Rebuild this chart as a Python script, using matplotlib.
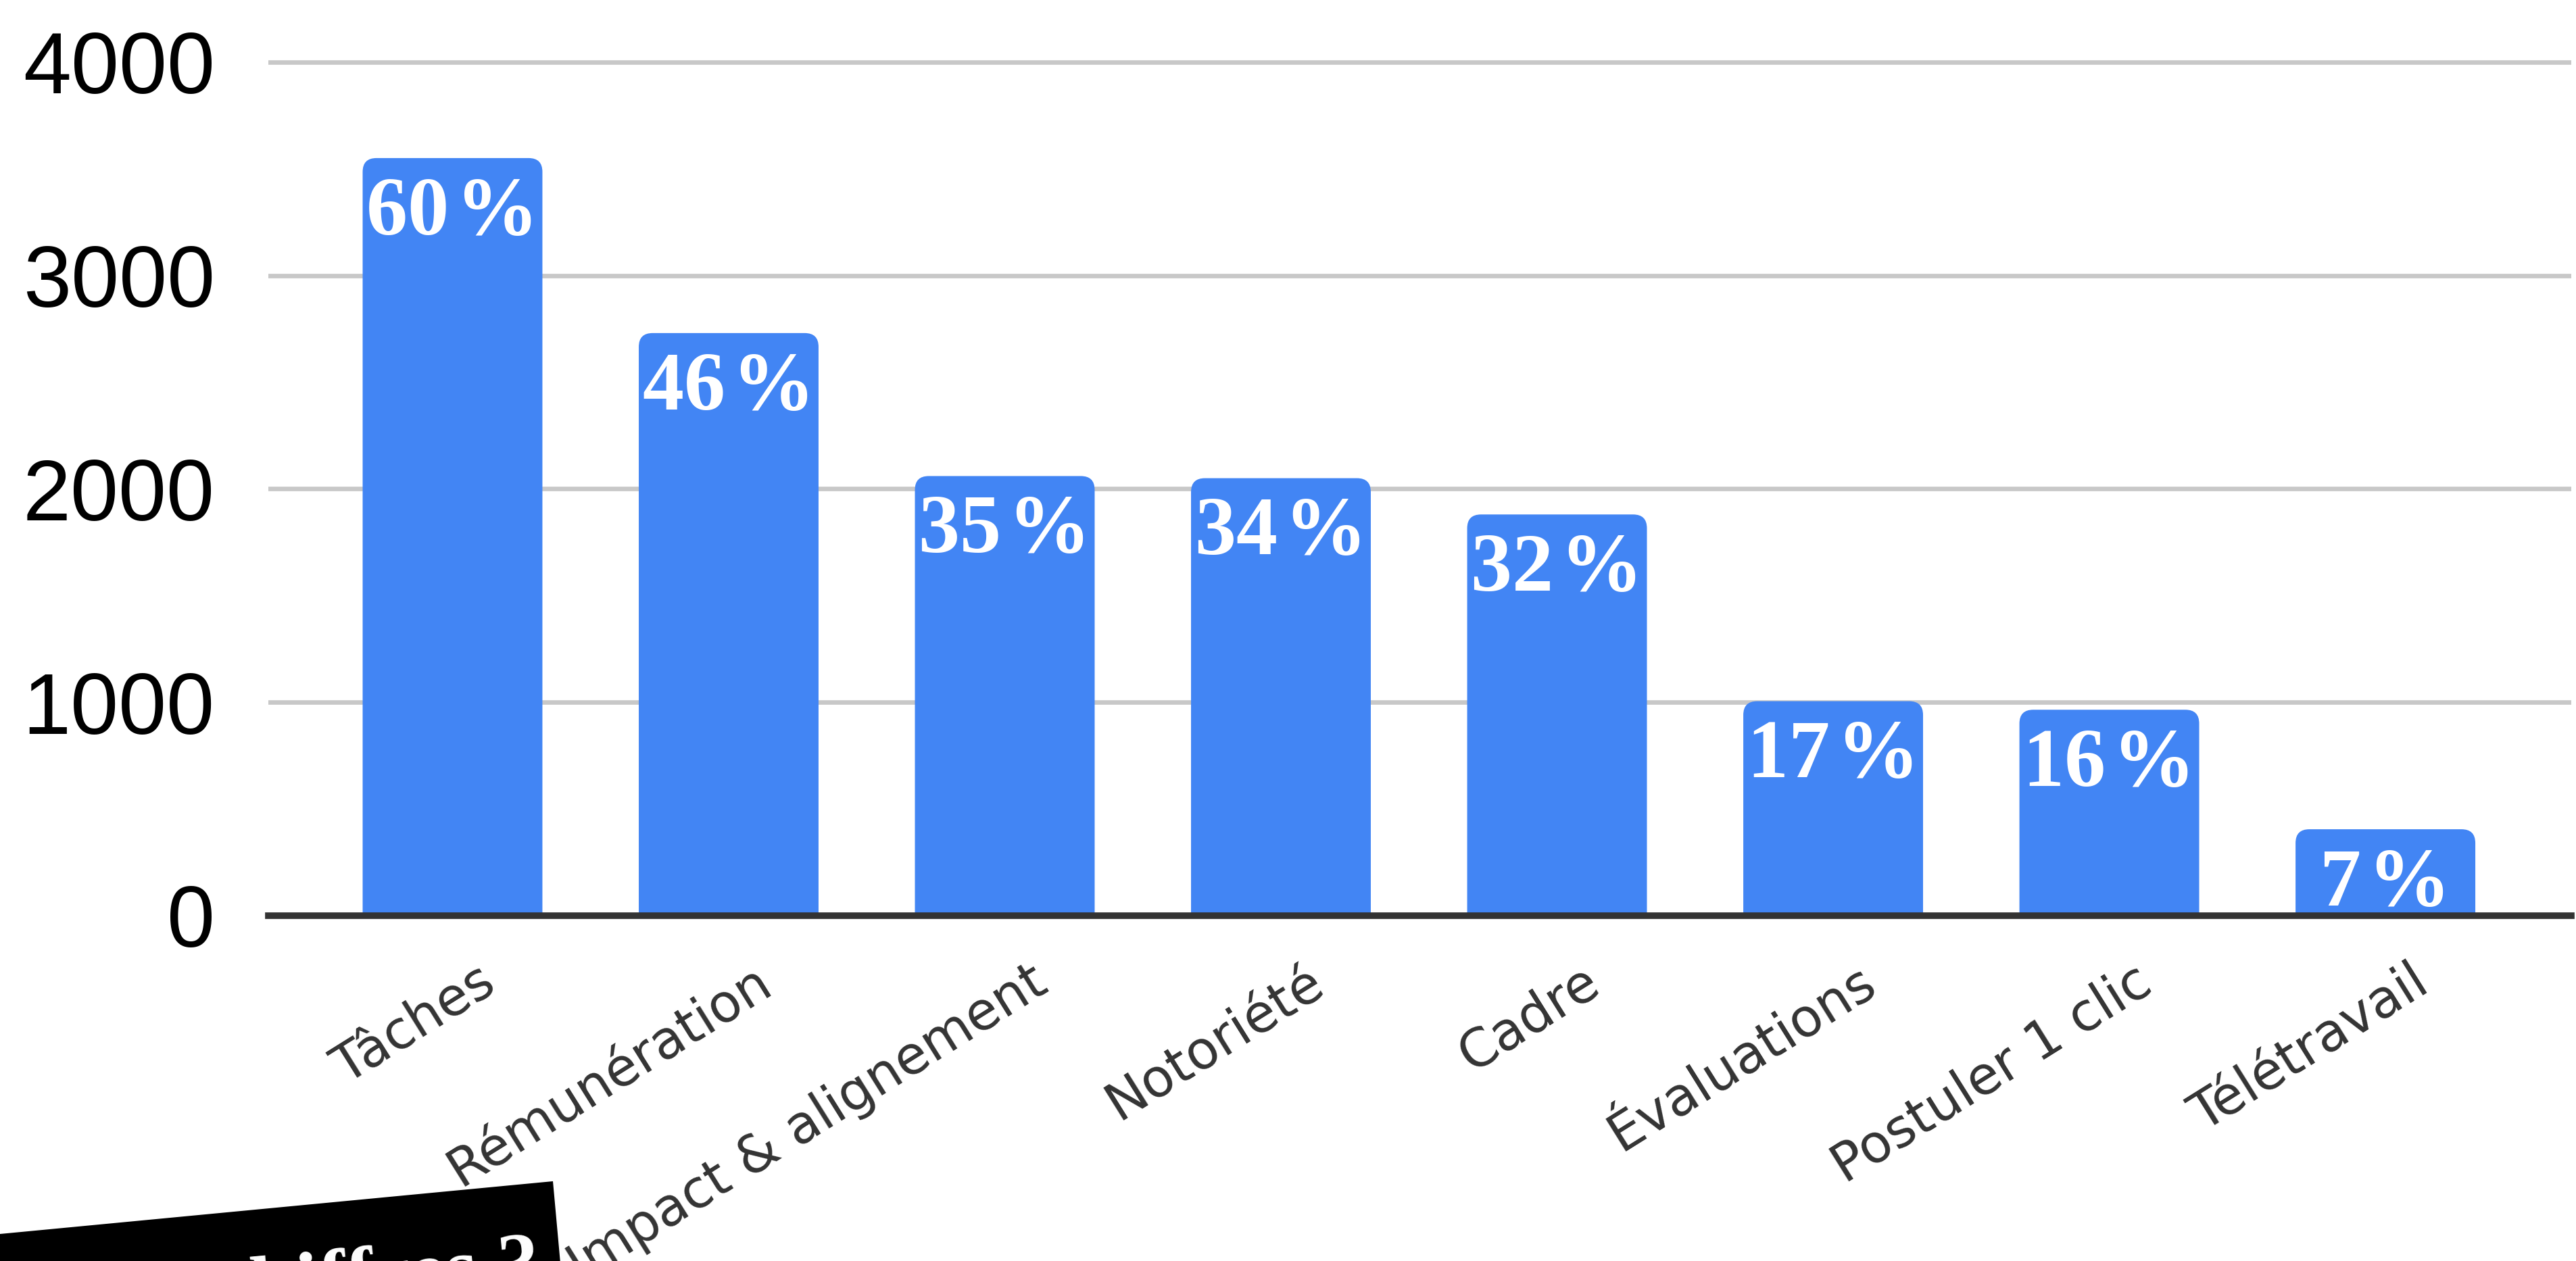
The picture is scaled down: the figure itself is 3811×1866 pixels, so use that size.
import matplotlib
matplotlib.use('Agg')
import matplotlib.pyplot as plt
from matplotlib.patches import FancyBboxPatch, Polygon
from matplotlib.transforms import ScaledTranslation

# data
categories = ['Tâches', 'Rémunération', 'Impact & alignement', 'Notoriété',
              'Cadre', 'Évaluations', 'Postuler 1 clic', 'Télétravail']
counts = [3550, 2730, 2060, 2050, 1880, 1005, 965, 405]
percents = [60, 46, 35, 34, 32, 17, 16, 7]
y_ticks = [0, 1000, 2000, 3000, 4000]

W, H = 3811, 1866
BLUE = '#4285F4'

fig = plt.figure(figsize=(W / 100, H / 100), dpi=100)
fig.patch.set_facecolor('white')
ax = fig.add_axes([397 / W, 1 - 1355 / H, (3804 - 397) / W, (1355 - 76) / H])

x = list(range(len(categories)))
bars = ax.bar(x, counts, width=0.651, color=BLUE)

# swap plain rectangles for ones with rounded tops (bottom corners hidden below zero)
for b in bars:
    b.set_visible(False)
    rb = FancyBboxPatch((b.get_x(), -300), b.get_width(), b.get_height() + 300,
                        boxstyle='round,pad=0,rounding_size=0.05',
                        mutation_aspect=1290, facecolor=BLUE, edgecolor='none',
                        zorder=2)
    ax.add_patch(rb)

for xi, v, p in zip(x, counts, percents):
    ax.annotate(f'{p}\u200a%', (xi, v), xytext=(0, -20), textcoords='offset points',
                ha='center', va='top', color='white', fontsize=88,
                fontweight='bold', family=['Liberation Serif', 'DejaVu Serif'],
                zorder=4)

ax.set_xlim(-0.667, 7.673)
ax.set_ylim(0, 4050)
ax.set_yticks(y_ticks)
ax.set_yticklabels([str(t) for t in y_ticks], family='Liberation Sans',
                   fontsize=92, color='black')
ax.tick_params(axis='y', length=0, pad=57)

ax.set_xticks(x)
ax.set_xticklabels(categories, rotation=32, ha='right', va='top',
                   rotation_mode='anchor', family='DejaVu Sans',
                   fontsize=56, color='#333333')
ax.tick_params(axis='x', length=0, pad=43)
shift = ScaledTranslation(0.36, 0, fig.dpi_scale_trans)
for lbl in ax.get_xticklabels():
    lbl.set_transform(lbl.get_transform() + shift)

ax.grid(axis='y', color='#c8c8c8', linewidth=4.8)
ax.set_axisbelow(True)
for s in ['top', 'right', 'left']:
    ax.spines[s].set_visible(False)
ax.spines['bottom'].set_color('#333333')
ax.spines['bottom'].set_linewidth(7)
ax.spines['bottom'].set_zorder(3)

# black tilted tag cut off at the bottom-left corner
tag = [(0, 1826), (818, 1748), (830, 1880), (0, 1880)]
fig.patches.append(Polygon([(px / W, 1 - py / H) for px, py in tag], closed=True,
                           facecolor='black', edgecolor='none',
                           transform=fig.transFigure, zorder=5))
fig.text(802 / W, 1 - 1905 / H, 'Des chiffres ?', rotation=5.3,
         rotation_mode='anchor', ha='right', va='baseline', color='white',
         fontsize=88, fontweight='bold', family='Liberation Serif', zorder=6)

fig.savefig('out.png', dpi=100)
